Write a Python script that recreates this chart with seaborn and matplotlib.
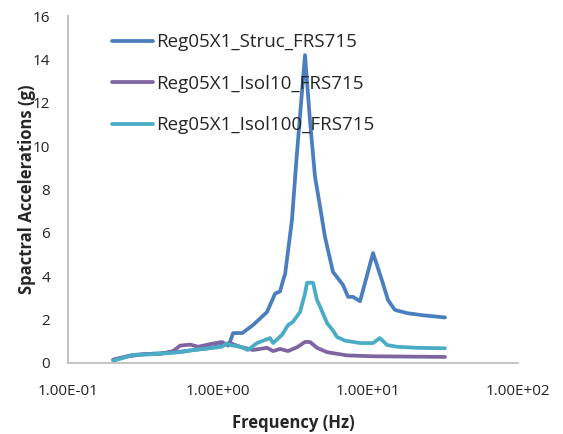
import numpy as np
import pandas as pd
import matplotlib
matplotlib.use("Agg")
import matplotlib.pyplot as plt
from matplotlib.ticker import FuncFormatter, FixedLocator, NullLocator
import seaborn as sns

# ------------------------------------------------------------
# Data
# ------------------------------------------------------------
struc_f = [0.20, 0.27, 0.35, 0.46, 0.56, 0.65, 0.74, 0.89, 1.06, 1.17, 1.20,
           1.26, 1.45, 1.71, 2.12, 2.40, 2.59, 2.71, 2.80, 3.11, 3.36, 3.80,
           4.10, 4.43, 4.79, 5.17, 5.84, 6.81, 7.36, 7.94, 8.85, 10.8, 12.4,
           13.6, 15.1, 18.2, 23.3, 32.6]
struc_sa = [0.15, 0.37, 0.42, 0.47, 0.52, 0.58, 0.62, 0.70, 0.80, 0.90, 0.97,
            1.38, 1.38, 1.75, 2.35, 3.20, 3.30, 3.80, 4.10, 6.60, 9.70, 14.2,
            11.2, 8.60, 7.20, 5.80, 4.20, 3.60, 3.05, 3.05, 2.85, 5.07, 3.80,
            2.90, 2.45, 2.30, 2.20, 2.10]

isol10_f = [0.20, 0.247, 0.316, 0.411, 0.501, 0.558, 0.651, 0.736, 0.885, 1.06,
            1.17, 1.20, 1.40, 1.71, 2.12, 2.33, 2.59, 2.93, 3.41, 3.80, 4.10,
            4.57, 5.33, 7.24, 10.8, 15.6, 32.6]
isol10_sa = [0.15, 0.30, 0.40, 0.42, 0.55, 0.80, 0.85, 0.75, 0.87, 0.97,
             0.80, 0.92, 0.75, 0.60, 0.70, 0.55, 0.65, 0.55, 0.75, 0.97, 0.97,
             0.70, 0.50, 0.35, 0.31, 0.30, 0.28]

isol100_f = [0.20, 0.271, 0.352, 0.457, 0.558, 0.736, 0.885, 1.06, 1.15, 1.20,
             1.40, 1.58, 1.82, 2.22, 2.33, 2.67, 2.93, 3.16, 3.52, 3.80, 3.92,
             4.30, 4.57, 4.79, 5.33, 5.84, 6.21, 7.03, 8.85, 10.8, 12.0, 13.4,
             15.6, 21.2, 32.6]
isol100_sa = [0.10, 0.37, 0.40, 0.45, 0.50, 0.63, 0.68, 0.75, 0.90, 0.83,
              0.75, 0.60, 0.92, 1.15, 0.92, 1.30, 1.75, 1.90, 2.35, 3.20, 3.70,
              3.70, 2.90, 2.60, 1.84, 1.50, 1.20, 1.03, 0.92, 0.92, 1.15, 0.83,
              0.75, 0.70, 0.68]

labels = ["Reg05X1_Struc_FRS715", "Reg05X1_Isol10_FRS715", "Reg05X1_Isol100_FRS715"]
colors = ["#4A7EBF", "#8064A2", "#4BACC6"]

x_ticks = [0.1, 1, 10, 100]
y_ticks = [0, 2, 4, 6, 8, 10, 12, 14, 16]

# ------------------------------------------------------------
# Plot
# ------------------------------------------------------------
sns.set_style("white")
plt.rcParams["font.family"] = ["Open Sans", "DejaVu Sans"]

fig = plt.figure(figsize=(5.63, 4.34), dpi=100)
ax = fig.add_axes([0.121, 0.1636, 0.799, 0.7994])

series = [(struc_f, struc_sa), (isol10_f, isol10_sa), (isol100_f, isol100_sa)]
for (f, sa), lab, col in zip(series, labels, colors):
    d = pd.DataFrame({"f": f, "sa": sa})
    sns.lineplot(data=d, x="f", y="sa", ax=ax, color=col, lw=2.7,
                 label=lab, sort=False, estimator=None)

ax.set_xscale("log")
ax.set_xlim(0.1, 100)
ax.set_ylim(0, 16)
ax.xaxis.set_major_locator(FixedLocator(x_ticks))
ax.xaxis.set_minor_locator(NullLocator())
ax.xaxis.set_major_formatter(FuncFormatter(lambda v, p: f"{v:.2E}"))
ax.set_yticks(y_ticks)

for side in ["top", "right"]:
    ax.spines[side].set_visible(False)
for side in ["left", "bottom"]:
    ax.spines[side].set_color("#BFBFBF")
    ax.spines[side].set_linewidth(1.3)

ax.tick_params(axis="both", length=0, labelsize=11, colors="#222222")
ax.tick_params(axis="y", pad=13)
ax.tick_params(axis="x", pad=15)

ax.set_xlabel("Frequency (Hz)", fontsize=12, fontweight="bold")
ax.set_ylabel("Spactral Accelerations (g)", fontsize=12, fontweight="bold")
ax.xaxis.set_label_coords(0.5, -0.147)
ax.yaxis.set_label_coords(-0.072, 0.5)

ax.legend(loc="upper left", bbox_to_anchor=(0.097, 0.95), frameon=False,
          fontsize=13.5, handlelength=2.2, handletextpad=0.15,
          labelspacing=1.25, borderpad=0, borderaxespad=0)

fig.savefig("out.png", dpi=100)
